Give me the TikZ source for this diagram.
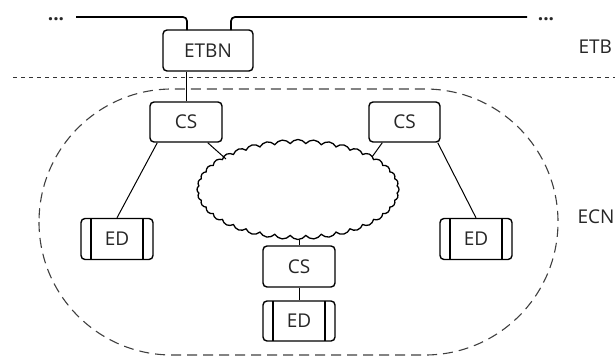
\documentclass[tikz,border=0pt]{standalone}
\usepackage{fontspec}
\setmainfont{Open Sans}
\usetikzlibrary{shapes.symbols}
\begin{document}
\begin{tikzpicture}[x=1pt,y=-1pt,
  every node/.style={font=\fontsize{19}{22}\selectfont, text=black!85},
  box/.style={draw, line width=1.4pt, rounded corners=4pt, inner sep=0pt},
  edbox/.style={box, minimum width=72pt, minimum height=41pt,
    path picture={
      \draw[line width=1.3pt] ([xshift=10pt]path picture bounding box.north west) -- ([xshift=10pt]path picture bounding box.south west);
      \draw[line width=1.3pt] ([xshift=-10pt]path picture bounding box.north east) -- ([xshift=-10pt]path picture bounding box.south east);
    }},
  csbox/.style={box, minimum width=72pt, minimum height=40pt},
  conn/.style={line width=1pt},
  lbl/.style={anchor=west}
]
\useasboundingbox (0,0) rectangle (615,356);

% dotted separator
\draw[line width=0.9pt, dash pattern=on 4pt off 4pt, black!80] (13,77) -- (615,77);
% dashed ECN region
\draw[line width=1.1pt, dash pattern=on 10pt off 6pt, black!75, rounded corners=133pt] (39,89) rectangle (558,355);

% nodes
\node[box, minimum width=90pt, minimum height=41pt] (etbn) at (208,50.5) {ETBN};
\node[csbox] (cs1) at (186,122) {CS};
\node[csbox, minimum width=71pt] (cs2) at (404.5,122) {CS};
\node[edbox] (ed1) at (117,239) {ED};
\node[edbox] (ed2) at (476,239) {ED};
\node[csbox, minimum height=41pt] (cs3) at (299,266.5) {CS};
\node[edbox, minimum height=40pt] (ed3) at (299,321) {ED};
\node[cloud, draw, line width=1.3pt, cloud puffs=40, cloud puff arc=110, cloud ignores aspect,
      minimum width=202pt, minimum height=100pt, inner sep=0pt] (cloud) at (298,189.5) {};

% labels
\node[lbl] (etb) at (575,47) {ETB};
\node[lbl] (ecn) at (574,217) {ECN};
\node[anchor=base, font=\fontsize{19}{22}\bfseries] (dl) at (56,20.5) {...};
\node[anchor=base, font=\fontsize{19}{22}\bfseries] (dr) at (546,20.5) {...};

% bus line
\coordinate (bl) at (76,17);
\coordinate (br) at (527,17);
\draw[line width=1.7pt, rounded corners=4pt] (bl) -- (187,17) -- (187,30);
\draw[line width=1.7pt, rounded corners=4pt] (231,30) -- (231,17) -- (br);

% connectors
\draw[conn] (cs1.north) -- (cs1.north |- etbn.south);
\draw[conn] ([xshift=8pt]cs1.south west) -- (ed1.north);
\draw[conn] ([xshift=-15pt]cs1.south east) -- (226,159);
\draw[conn] ([xshift=14pt]cs2.south west) -- (372,157);
\draw[conn] ([xshift=-3pt]cs2.south east) -- (ed2.north);
\draw[conn] (cs3.north) -- (cs3.north |- cloud.south);
\draw[conn] (cs3.south) -- (ed3.north);
\end{tikzpicture}
\end{document}
